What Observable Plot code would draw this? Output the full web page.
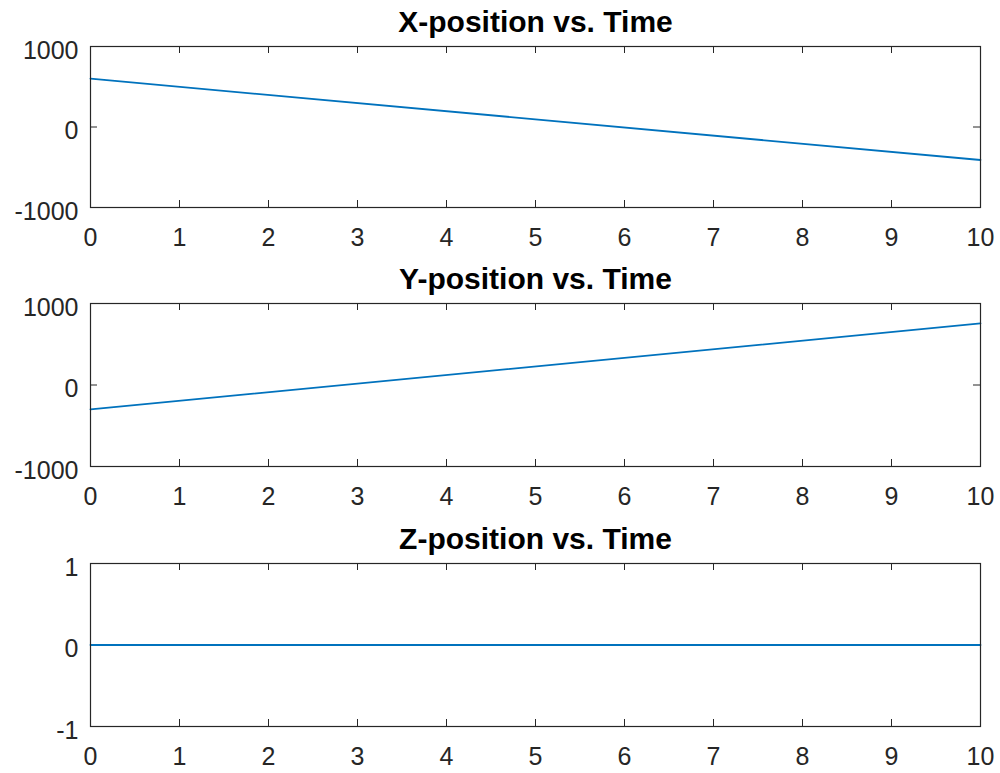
<!DOCTYPE html>
<html>
<head>
<meta charset="utf-8">
<script src="https://cdn.jsdelivr.net/npm/d3@7"></script>
<script src="https://cdn.jsdelivr.net/npm/@observablehq/plot@0.6"></script>
<style>
  html, body { margin: 0; padding: 0; background: #fff; }
  #chart { position: relative; width: 1000px; height: 773px; }
  #chart svg { position: absolute; left: 0; }
</style>
</head>
<body>
<div id="chart"></div>
<script>
// Time samples (s) and position of the object along each axis
const time = [0, 10];
const xPosition = [600, -410];
const yPosition = [-300, 755];
const zPosition = [0, 0];

// Panel titles and tick values
const titles = ["X-position vs. Time", "Y-position vs. Time", "Z-position vs. Time"];
const timeTicks = [0, 1, 2, 3, 4, 5, 6, 7, 8, 9, 10];
const posTicks = [-1000, 0, 1000];
const zTicks = [-1, 0, 1];

const ink = "#262626";
const lineColor = "#0072BD";
const fontFamily = "'Liberation Sans', Arial, Helvetica, sans-serif";
const tickLen = 7;
const plainNumber = d => String(d);

const panels = [
  {title: titles[0], values: xPosition, domain: [-1000, 1000], ticks: posTicks, top: 0, frameH: 161, marginBottom: 50},
  {title: titles[1], values: yPosition, domain: [-1000, 1000], ticks: posTicks, top: 257, frameH: 163, marginBottom: 51},
  {title: titles[2], values: zPosition, domain: [-1, 1], ticks: zTicks, top: 517, frameH: 163, marginBottom: 47}
];

const marginLeft = 90, marginRight = 20, marginTop = 46, width = 1000;
const frameW = width - marginLeft - marginRight;

const chart = document.getElementById("chart");

for (const p of panels) {
  const data = time.map((t, i) => ({t, v: p.values[i]}));
  const svg = Plot.plot({
    width,
    height: marginTop + p.frameH + p.marginBottom,
    marginLeft, marginRight, marginTop, marginBottom: p.marginBottom,
    style: {fontFamily, fontSize: "25px", color: ink, background: "transparent", overflow: "visible"},
    x: {domain: [0, 10], label: null},
    y: {domain: p.domain, label: null},
    marks: [
      // bottom and top inward ticks
      Plot.tickX(timeTicks, {x: d => d, stroke: ink, insetTop: p.frameH - tickLen}),
      Plot.tickX(timeTicks, {x: d => d, stroke: ink, insetBottom: p.frameH - tickLen}),
      // left and right inward ticks
      Plot.tickY(p.ticks, {y: d => d, stroke: ink, insetRight: frameW - tickLen}),
      Plot.tickY(p.ticks, {y: d => d, stroke: ink, insetLeft: frameW - tickLen}),
      Plot.line(data, {x: "t", y: "v", stroke: lineColor, strokeWidth: 1.8}),
      Plot.frame({stroke: ink, strokeWidth: 1.2}),
      Plot.axisX({ticks: timeTicks, tickFormat: plainNumber, tickSize: 0, tickPadding: 21, fontSize: 25, fill: ink, label: null}),
      Plot.axisY({ticks: p.ticks, tickFormat: plainNumber, tickSize: 0, tickPadding: 12, dy: 4, fontSize: 25, fill: ink, label: null}),
      Plot.text([p.title], {
        text: d => d, frameAnchor: "top", lineAnchor: "bottom", dy: -15,
        fontSize: 30, fontWeight: "bold", fill: "#000"
      })
    ]
  });
  svg.style.top = p.top + "px";
  chart.appendChild(svg);
}
</script>
</body>
</html>
